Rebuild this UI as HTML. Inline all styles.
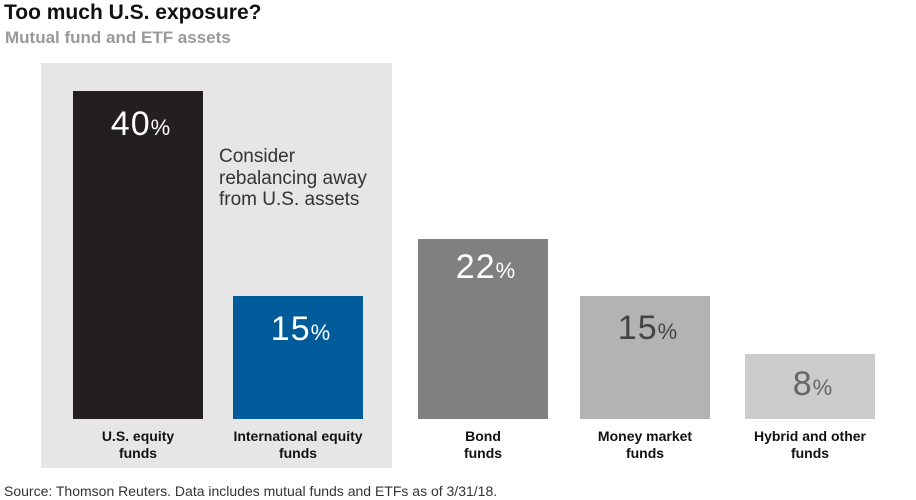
<!DOCTYPE html>
<html><head><style>
body{margin:0;width:916px;height:500px;background:#fff;font-family:"Liberation Sans",sans-serif;position:relative;overflow:hidden}
div{position:absolute}
.b{width:130px}
.n{width:130px;text-align:center;font-size:34px;line-height:1;letter-spacing:1px}
.n span{font-size:22px}
.l{width:170px;text-align:center;font-weight:bold;font-size:14px;line-height:17px;color:#111}
</style></head><body>
<div style="left:4px;top:1px;font-size:21px;font-weight:bold;color:#111">Too much U.S. exposure?</div>
<div style="left:5px;top:28px;font-size:17px;font-weight:bold;color:#999">Mutual fund and ETF assets</div>
<div style="left:41px;top:63px;width:351px;height:405px;background:#e6e6e6"></div>
<div class="b" style="left:73px;top:91px;height:328px;background:#231f20"></div>
<div class="b" style="left:233px;top:296px;height:123px;background:#005b9a"></div>
<div class="b" style="left:418px;top:239px;height:180px;background:#808080"></div>
<div class="b" style="left:580px;top:296px;height:123px;background:#b3b3b3"></div>
<div class="b" style="left:745px;top:354px;height:65px;background:#cccccc"></div>
<div class="n" style="left:76px;top:107px;color:#fff">40<span>%</span></div>
<div class="n" style="left:236px;top:312px;color:#fff">15<span>%</span></div>
<div class="n" style="left:421px;top:250px;color:#fff">22<span>%</span></div>
<div class="n" style="left:583px;top:311px;color:#444">15<span>%</span></div>
<div class="n" style="left:748px;top:367px;color:#666">8<span>%</span></div>
<div style="left:219px;top:146px;font-size:19px;line-height:21.5px;color:#333">Consider<br>rebalancing away<br>from U.S. assets</div>
<div class="l" style="left:53px;top:428px">U.S. equity<br>funds</div>
<div class="l" style="left:213px;top:428px">International equity<br>funds</div>
<div class="l" style="left:398px;top:428px">Bond<br>funds</div>
<div class="l" style="left:560px;top:428px">Money market<br>funds</div>
<div class="l" style="left:725px;top:428px">Hybrid and other<br>funds</div>
<div style="left:4px;top:483px;font-size:14px;color:#333">Source: Thomson Reuters. Data includes mutual funds and ETFs as of 3/31/18.</div>
</body></html>
